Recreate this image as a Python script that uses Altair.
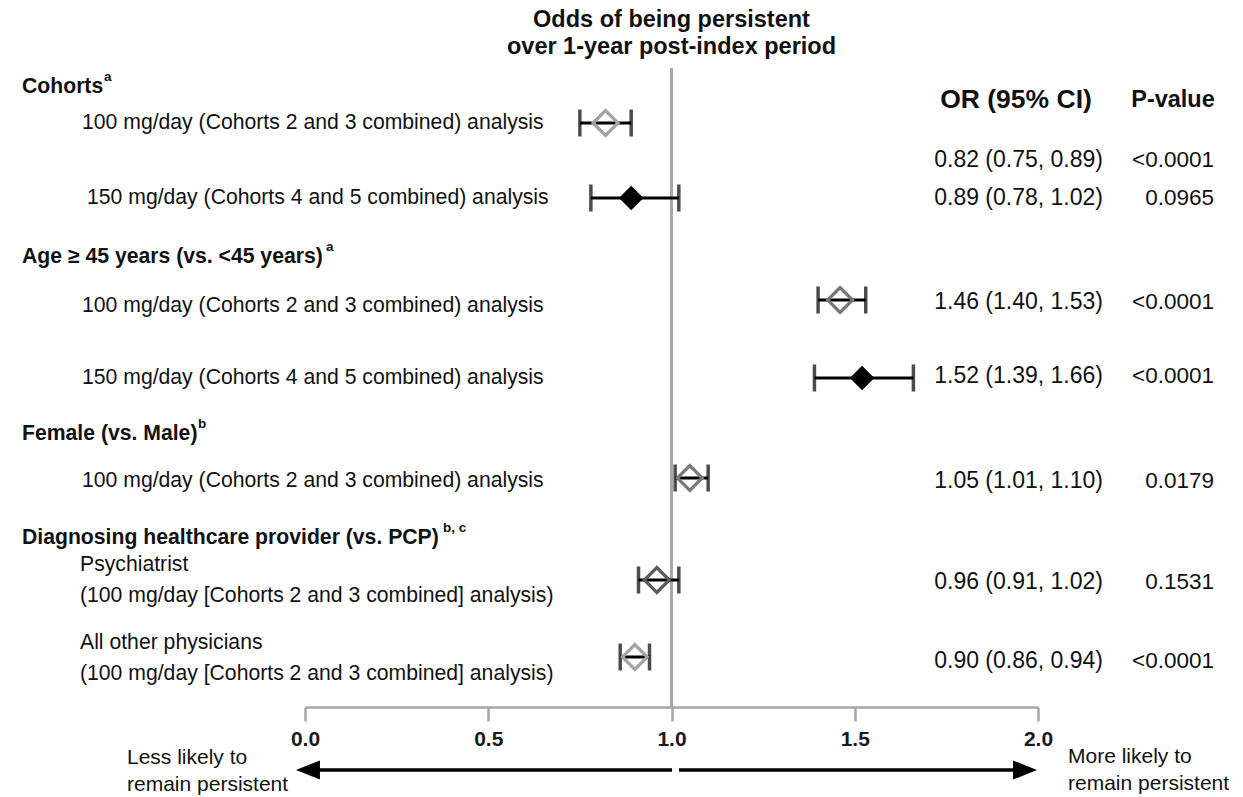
import altair as alt
import pandas as pd

# ---------------- data ----------------
row_labels = [
    "100 mg/day (Cohorts 2 and 3 combined) analysis",
    "150 mg/day (Cohorts 4 and 5 combined) analysis",
    "100 mg/day (Cohorts 2 and 3 combined) analysis",
    "150 mg/day (Cohorts 4 and 5 combined) analysis",
    "100 mg/day (Cohorts 2 and 3 combined) analysis",
    "Psychiatrist\n(100 mg/day [Cohorts 2 and 3 combined] analysis)",
    "All other physicians\n(100 mg/day [Cohorts 2 and 3 combined] analysis)",
]
odds_ratio = [0.82, 0.89, 1.46, 1.52, 1.05, 0.96, 0.90]
ci_low = [0.75, 0.78, 1.40, 1.39, 1.01, 0.91, 0.86]
ci_high = [0.89, 1.02, 1.53, 1.66, 1.10, 1.02, 0.94]
p_values = ["<0.0001", "0.0965", "<0.0001", "<0.0001", "0.0179", "0.1531", "<0.0001"]
dose = ["100", "150", "100", "150", "100", "100", "100"]

group_headers = [
    "Cohorts",
    "Age \u2265 45 years (vs. <45 years)",
    "Female (vs. Male)",
    "Diagnosing healthcare provider (vs. PCP)",
]
header_notes = ["a", "a", "b", "b, c"]
x_ticks = [0.0, 0.5, 1.0, 1.5, 2.0]

title_text = "Odds of being persistent\nover 1-year post-index period"
left_note = "Less likely to\nremain persistent"
right_note = "More likely to\nremain persistent"

# ---------------- layout / style ----------------
FONT = "Liberation Sans"
marker_y = [123, 198, 300, 378, 478, 580, 657]
label_y = [123, 198, 306, 378, 481, 565, 643]   # first line of each label
label_x = [82, 87, 82, 82, 82, 80, 80]
value_y = [160, 198, 302, 376, 481, 582, 661]
header_y = [87, 257, 434, 538]
note_x = [104, 326, 198, 443]
open_stroke = ["#a3a3a3", "#000000", "#767676", "#000000", "#7a7a7a", "#5a5a5a", "#a3a3a3"]

df = pd.DataFrame({
    "label": row_labels,
    "or": odds_ratio,
    "lo": ci_low,
    "hi": ci_high,
    "p": p_values,
    "dose": dose,
    "my": marker_y,
    "ly": label_y,
    "lx": label_x,
    "vy": value_y,
    "stroke": open_stroke,
})
df["ortxt"] = [f"{o:.2f} ({l:.2f}, {h:.2f})" for o, l, h in zip(odds_ratio, ci_low, ci_high)]

H = 707
xs = alt.Scale(domain=[0, 2], range=[305, 1038], nice=False, zero=False)
ys = alt.Scale(domain=[0, H], range=[0, H], nice=False, zero=False)

base = alt.Chart(df)

x_axis = alt.Axis(
    values=x_ticks, format=".1f", title=None, grid=False, orient="bottom",
    domainColor="#a6a6a6", domainWidth=2.5, tickColor="#a6a6a6", tickWidth=2.5,
    tickSize=14, labelFont=FONT, labelFontSize=21, labelFontWeight="bold",
    labelColor="#1a1a1a", labelPadding=7, labelFlush=False, labelOverlap=False,
)

ref_line = base.mark_rule(color="#a8a8a8", strokeWidth=2).encode(
    x=alt.datum(1.0, scale=xs, axis=x_axis, type="quantitative"),
    y=alt.value(68), y2=alt.value(H),
)

ci_line = base.mark_rule(color="black", strokeWidth=3).encode(
    x=alt.X("lo:Q", scale=xs), x2="hi:Q", y=alt.Y("my:Q", scale=ys, axis=None),
)
cap_lo = base.mark_tick(orient="vertical", size=27, thickness=3.5, color="black").encode(
    x=alt.X("lo:Q", scale=xs), y=alt.Y("my:Q", scale=ys),
)
cap_hi = base.mark_tick(orient="vertical", size=27, thickness=3.5, color="black").encode(
    x=alt.X("hi:Q", scale=xs), y=alt.Y("my:Q", scale=ys),
)
filled = base.transform_filter(alt.datum.dose == "150").mark_point(
    shape="diamond", filled=True, size=600, color="black", opacity=1
).encode(x=alt.X("or:Q", scale=xs), y=alt.Y("my:Q", scale=ys))
open_d = base.transform_filter(alt.datum.dose == "100").mark_point(
    shape="diamond", filled=False, size=620, strokeWidth=3.2, opacity=1
).encode(
    x=alt.X("or:Q", scale=xs), y=alt.Y("my:Q", scale=ys),
    color=alt.Color("stroke:N", scale=None),
)

layers = [ref_line, ci_line, cap_lo, cap_hi, open_d, filled]

for lx in sorted(set(label_x)):
    layers.append(base.transform_filter(alt.datum.lx == lx).mark_text(
        align="left", baseline="middle", font=FONT, fontSize=21.2, lineHeight=31,
        lineBreak="\n", color="#111111",
    ).encode(x=alt.value(lx), y=alt.Y("ly:Q", scale=ys), text="label:N"))

layers.append(base.mark_text(
    align="right", baseline="middle", font=FONT, fontSize=23, color="#111111",
).encode(x=alt.value(1103), y=alt.Y("vy:Q", scale=ys), text="ortxt:N"))
layers.append(base.mark_text(
    align="right", baseline="middle", font=FONT, fontSize=22.5, color="#111111",
).encode(x=alt.value(1214), y=alt.Y("vy:Q", scale=ys), text="p:N"))

one = alt.Chart(pd.DataFrame({"k": [0]}))

for h, n, hy, nx in zip(group_headers, header_notes, header_y, note_x):
    layers.append(one.mark_text(
        align="left", baseline="middle", font=FONT, fontSize=21.2, fontWeight="bold", color="#111111",
    ).encode(x=alt.value(22), y=alt.value(hy), text=alt.value(h)))
    layers.append(one.mark_text(
        align="left", baseline="middle", font=FONT, fontSize=13.5, fontWeight="bold", color="#111111",
    ).encode(x=alt.value(nx), y=alt.value(hy - 10), text=alt.value(n)))

layers.append(one.mark_text(
    align="center", baseline="middle", font=FONT, fontSize=23.5, fontWeight="bold",
    lineBreak="\n", lineHeight=27, color="#111111",
).encode(x=alt.datum(1.0, scale=xs), y=alt.value(20), text=alt.value(title_text)))

layers.append(one.mark_text(
    align="center", baseline="middle", font=FONT, fontSize=26.5, fontWeight="bold", color="#111111",
).encode(x=alt.value(1016), y=alt.value(100), text=alt.value("OR (95% CI)")))
layers.append(one.mark_text(
    align="center", baseline="middle", font=FONT, fontSize=23.5, fontWeight="bold", color="#111111",
).encode(x=alt.value(1173), y=alt.value(100), text=alt.value("P-value")))

# bottom direction arrows
arrow_df = pd.DataFrame({
    "x1": [1.0015, 1.0205], "x2": [0.02, 1.95],
    "tip": [0.008, 1.9645], "shape": ["left", "right"],
})
arrow_base = alt.Chart(arrow_df)
layers.append(arrow_base.mark_rule(color="black", strokeWidth=3.5).encode(
    x=alt.X("x1:Q", scale=xs), x2="x2:Q", y=alt.value(770)))
layers.append(arrow_base.transform_filter(alt.datum.shape == "left").mark_point(
    shape="M-1,0L1,-0.8L1,0.8Z", filled=True, size=576, color="black", opacity=1
).encode(x=alt.X("tip:Q", scale=xs), y=alt.value(770)))
layers.append(arrow_base.transform_filter(alt.datum.shape == "right").mark_point(
    shape="M1,0L-1,-0.8L-1,0.8Z", filled=True, size=576, color="black", opacity=1
).encode(x=alt.X("tip:Q", scale=xs), y=alt.value(770)))

layers.append(one.mark_text(
    align="left", baseline="middle", font=FONT, fontSize=21, lineBreak="\n", lineHeight=27, color="#111111",
).encode(x=alt.value(127), y=alt.value(758), text=alt.value(left_note)))
layers.append(one.mark_text(
    align="left", baseline="middle", font=FONT, fontSize=21, lineBreak="\n", lineHeight=27, color="#111111",
).encode(x=alt.value(1068), y=alt.value(757), text=alt.value(right_note)))

chart = alt.layer(*layers).properties(
    width=1243, height=H,
    padding={"left": 0, "top": 0, "right": 0, "bottom": 90},
    autosize=alt.AutoSizeParams(type="none"),
    background="white",
).configure_view(stroke=None)

chart.save("out.html", embed_options={"renderer": "svg", "actions": False})
